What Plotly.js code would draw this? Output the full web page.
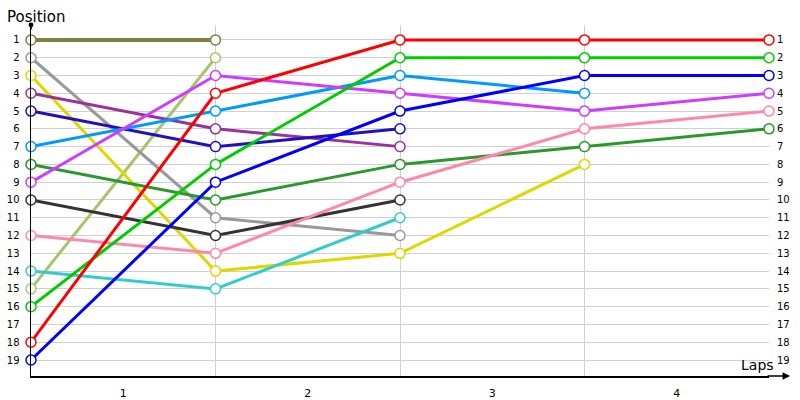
<!DOCTYPE html>
<html>
<head>
<meta charset="utf-8">
<script src="https://cdn.plot.ly/plotly-3.0.1.min.js"></script>
<style>html,body{margin:0;padding:0;background:#fff;}#chart{width:800px;height:400px;}</style>
</head>
<body>
<div id="chart"></div>
<script>
// Lap positions (0 = start)
var laps = [0, 1, 2, 3, 4];
var lapLabels = ['1', '2', '3', '4'];
var lapLabelPos = [0.5, 1.5, 2.5, 3.5];
var positionTicks = [1,2,3,4,5,6,7,8,9,10,11,12,13,14,15,16,17,18,19];

// Position of each driver after each lap
var olive      = [1, 1];
var lightGreen = [15, 2];
var gray       = [2, 11, 12];
var yellow     = [3, 14, 13, 8];
var purple     = [4, 6, 7];
var darkBlue   = [5, 7, 6];
var lightBlue  = [7, 5, 3, 4];
var darkGreen  = [8, 10, 8, 7, 6];
var magenta    = [9, 3, 4, 5, 4];
var black      = [10, 12, 10];
var pink       = [12, 13, 9, 6, 5];
var cyan       = [14, 15, 11];
var green      = [16, 8, 2, 2, 2];
var red        = [18, 4, 1, 1, 1];
var blue       = [19, 9, 5, 3, 3];

var series = [
  {y: olive, c: '#808040', w: 4},
  {y: lightGreen, c: '#a9c46c', w: 3},
  {y: gray, c: '#999999', w: 3},
  {y: yellow, c: '#dcd800', w: 3},
  {y: purple, c: '#993399', w: 3},
  {y: darkBlue, c: '#2010c0', w: 3},
  {y: lightBlue, c: '#0099ff', w: 3},
  {y: darkGreen, c: '#2a982a', w: 3},
  {y: magenta, c: '#cc3dff', w: 3},
  {y: black, c: '#333333', w: 3},
  {y: pink, c: '#ff88aa', w: 3},
  {y: cyan, c: '#33cccc', w: 3},
  {y: green, c: '#00cc00', w: 3},
  {y: red, c: '#ff0000', w: 3},
  {y: blue, c: '#0000ff', w: 3}
];

var traces = series.map(function(s){
  return {
    x: laps.slice(0, s.y.length),
    y: s.y,
    type: 'scatter',
    mode: 'lines+markers',
    line: {color: s.c, width: s.w},
    marker: {symbol: 'circle', size: 10, color: '#ffffff', line: {color: s.c, width: 1.5}},
    hoverinfo: 'skip',
    showlegend: false,
    cliponaxis: false
  };
});

var font = {family: 'DejaVu Sans, Verdana, sans-serif', size: 10, color: '#000'};

var layout = {
  width: 800, height: 400,
  margin: {l: 31, r: 31, t: 25, b: 24, pad: 0},
  paper_bgcolor: '#fff', plot_bgcolor: '#fff',
  showlegend: false,
  font: font,
  xaxis: {
    range: [0, 4],
    tickvals: lapLabelPos, ticktext: lapLabels,
    showgrid: false, zeroline: false,
    showline: true, linecolor: '#000', linewidth: 1.5,
    ticks: '', ticklabelstandoff: 6,
    tickfont: {family: 'DejaVu Sans, Verdana, sans-serif', size: 11, color: '#000'},
    minor: {tick0: 0, dtick: 1, showgrid: true, gridcolor: '#d0d0d0', gridwidth: 1, ticks: ''},
    fixedrange: true
  },
  yaxis: {
    range: [19.9, 0.16],
    tickvals: positionTicks,
    showgrid: true, gridcolor: '#d0d0d0', gridwidth: 1,
    zeroline: false,
    showline: true, linecolor: '#000', linewidth: 1.5,
    ticks: '', ticklabelstandoff: 8,
    tickfont: font,
    fixedrange: true
  },
  yaxis2: {
    overlaying: 'y', side: 'right',
    range: [19.9, 0.16],
    tickvals: positionTicks,
    showgrid: false, zeroline: false, showline: false,
    ticks: '', ticklabelstandoff: 7,
    tickfont: font,
    fixedrange: true
  },
  annotations: [
    {xref: 'paper', yref: 'paper', x: -0.035, y: 1.0, xanchor: 'left', yanchor: 'bottom', yshift: -3,
     text: 'Position', showarrow: false,
     font: {family: 'DejaVu Sans, Verdana, sans-serif', size: 15, color: '#000'}},
    {xref: 'paper', yref: 'paper', x: 0.985, y: 0.0, xanchor: 'center', yanchor: 'bottom', yshift: 1,
     text: 'Laps', showarrow: false,
     font: {family: 'DejaVu Sans, Verdana, sans-serif', size: 14, color: '#000'}},
    {xref: 'paper', yref: 'paper', x: 1.0285, y: 0, ax: -24, ay: 0, text: '',
     showarrow: true, arrowhead: 2, arrowsize: 1, arrowwidth: 1.5, arrowcolor: '#000'},
    {xref: 'paper', yref: 'paper', x: 0, y: 1.0, ax: 0, ay: 6, text: '',
     showarrow: true, arrowhead: 6, arrowsize: 0.8, arrowwidth: 1.5, arrowcolor: '#000'}
  ]
};

// right-hand position axis (no visible marks)
traces.push({x: laps.slice(0, olive.length), y: olive, yaxis: 'y2', type: 'scatter', mode: 'none',
             hoverinfo: 'skip', showlegend: false});

Plotly.newPlot('chart', traces, layout, {staticPlot: true, displayModeBar: false});
</script>
</body>
</html>
